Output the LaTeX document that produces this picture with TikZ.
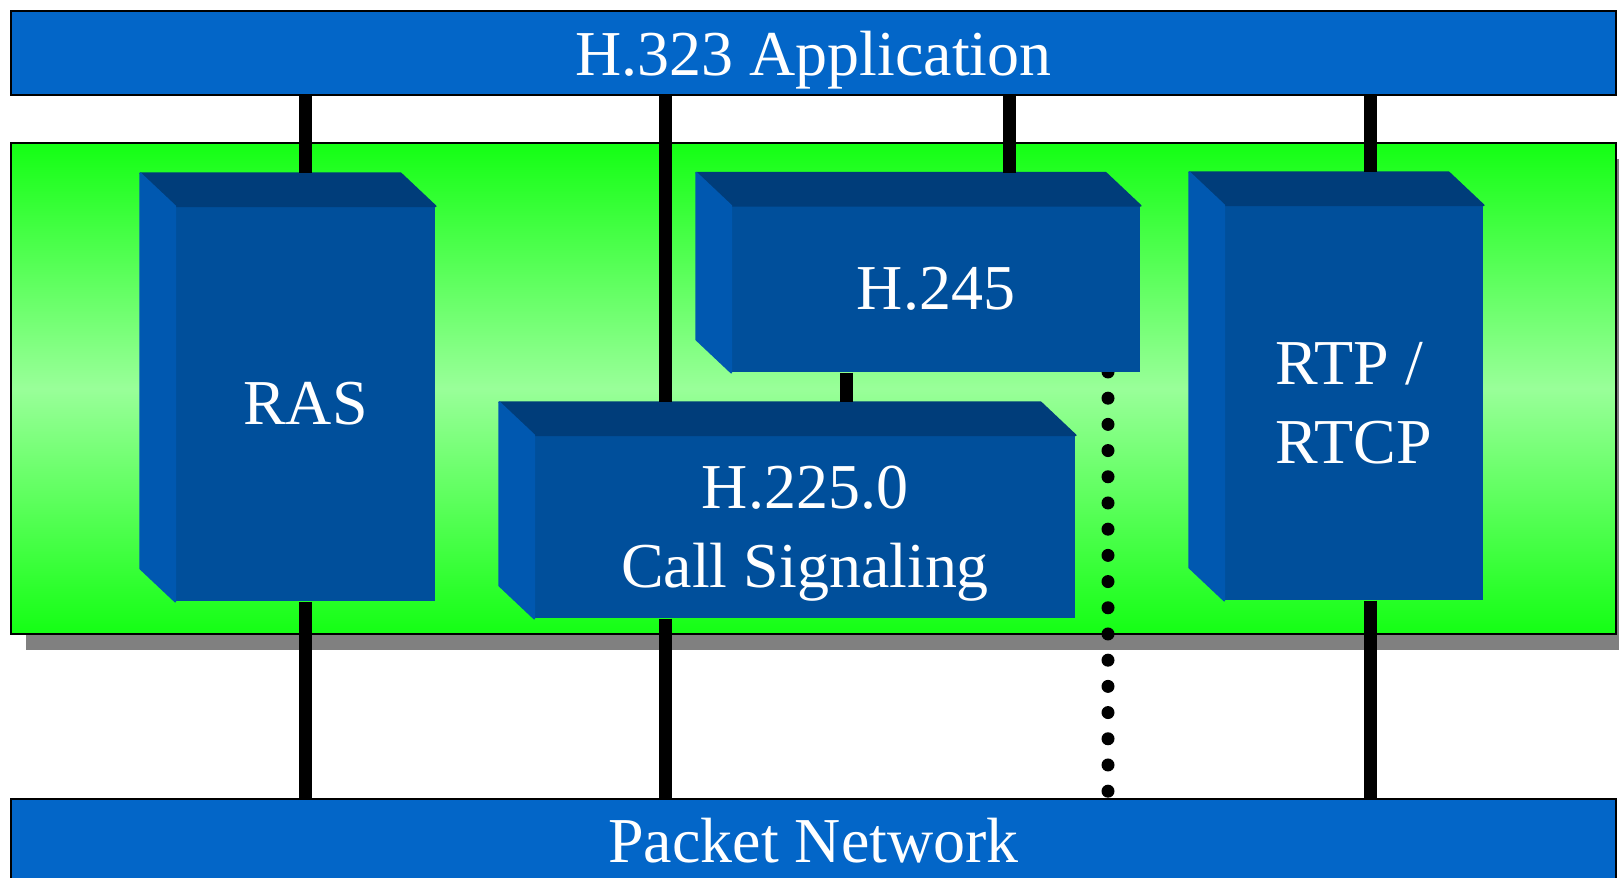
\documentclass[tikz,border=0pt]{standalone}
\usepackage{fontspec}
\setmainfont{Liberation Serif}
\usetikzlibrary{calc}
\usetikzlibrary{shadows}

\definecolor{barblue}{RGB}{3,102,200}
\definecolor{frontblue}{RGB}{0,79,155}
\definecolor{topblue}{RGB}{0,61,122}
\definecolor{sideblue}{RGB}{0,88,176}
\definecolor{grnA}{RGB}{20,255,20}
\definecolor{grnB}{RGB}{153,255,153}
\definecolor{shadowgray}{RGB}{128,128,128}

\begin{document}
\begin{tikzpicture}
  \pgfmathsetmacro{\DX}{0.35}
  \pgfmathsetmacro{\DY}{0.33}
\tikzset{
  bar/.style={draw, line width=0.6pt, fill=barblue, text=white, inner sep=0pt,
    minimum width=16.05cm, minimum height=0.84cm, font=\fontsize{18.2}{22.6}\selectfont},
  panel/.style={draw, line width=0.6pt, top color=grnA, bottom color=grnA, middle color=grnB,
    minimum width=16.05cm, minimum height=4.91cm, inner sep=0pt,
    drop shadow={shadow xshift=0.15cm, shadow yshift=-0.16cm, fill=shadowgray, opacity=1}},
  face/.style={fill=frontblue, text=white, inner sep=0pt, align=center,
    font=\fontsize{18.2}{22.6}\selectfont},
  topface/.style={fill=topblue, draw=topblue, line width=0.5pt, line join=round},
  sideface/.style={fill=sideblue, draw=sideblue, line width=0.5pt, line join=round},
  link/.style={line width=3.7pt},
  dots/.style={line width=3.7pt, line cap=round, dash pattern=on 0pt off 0.262cm},
}
%
\useasboundingbox (0, 0) rectangle (16.19, 8.78);

       \node [panel] (stack) at (8.135, 4.895) {};
       \node [bar, text depth=0pt] (app) at (8.135, 8.25) {H.323 Application};
       \node [bar] (net) at (8.135, 0.37) {Packet Network};

       \coordinate (tun) at (11.08, 5.06);
       \draw [dots] (tun) -- (tun |- net.north);

       \node [face, minimum width=2.59cm, minimum height=3.94cm] (ras) at (3.055, 4.74) {RAS};
       \fill [topface] (ras.north west) -- ++(-\DX, \DY) -- ($(ras.north east) + (-\DX, \DY)$)
       -- (ras.north east) -- cycle;
       \fill [sideface] (ras.north west) -- ++(-\DX, \DY) -- ($(ras.south west) + (-\DX, \DY)$)
       -- (ras.south west) -- cycle;

       \node [face, minimum width=4.08cm, minimum height=1.655cm] (h245) at (9.36, 5.8875) {H.245};
       \fill [topface] (h245.north west) -- ++(-\DX, \DY) -- ($(h245.north east) + (-\DX, \DY)$)
       -- (h245.north east) -- cycle;
       \fill [sideface] (h245.north west) -- ++(-\DX, \DY) -- ($(h245.south west) + (-\DX, \DY)$)
       -- (h245.south west) -- cycle;

       \node [face, text depth=0pt, minimum width=5.40cm, minimum height=1.82cm] (h225) at (8.05, 3.51)
       {H.225.0\\Call Signaling};
       \fill [topface] (h225.north west) -- ++(-\DX, \DY) -- ($(h225.north east) + (-\DX, \DY)$)
       -- (h225.north east) -- cycle;
       \fill [sideface] (h225.north west) -- ++(-\DX, \DY) -- ($(h225.south west) + (-\DX, \DY)$)
       -- (h225.south west) -- cycle;

       \node [face, align=left, minimum width=2.58cm, minimum height=3.94cm] (rtp) at (13.54, 4.75)
       {RTP /\\RTCP};
       \fill [topface] (rtp.north west) -- ++(-\DX, \DY) -- ($(rtp.north east) + (-\DX, \DY)$)
       -- (rtp.north east) -- cycle;
       \fill [sideface] (rtp.north west) -- ++(-\DX, \DY) -- ($(rtp.south west) + (-\DX, \DY)$)
       -- (rtp.south west) -- cycle;

       \coordinate (rastop) at ($(ras.north) + (0, \DY)$);
       \coordinate (sig) at ($(h225.north west) + (1.31, \DY)$);
       \coordinate (ctl) at ($(h245.north) + (0.73, \DY)$);
       \coordinate (mid) at ($(h225.north) + (0.41, \DY)$);
       \coordinate (rtptop) at ($(rtp.north) + (0.16, \DY)$);

       \draw [link] (app.south -| rastop) -- (rastop);
       \draw [link] (app.south -| sig) -- (sig);
       \draw [link] (app.south -| ctl) -- (ctl);
       \draw [link] (app.south -| rtptop) -- (rtptop);
       \draw [link] (h245.south -| mid) -- (mid);

       \draw [link] (ras.south) -- (ras.south |- net.north);
       \draw [link] (h225.south -| sig) -- (net.north -| sig);
       \draw [link] (rtp.south -| rtptop) -- (net.north -| rtptop);

\end{tikzpicture}
\end{document}
